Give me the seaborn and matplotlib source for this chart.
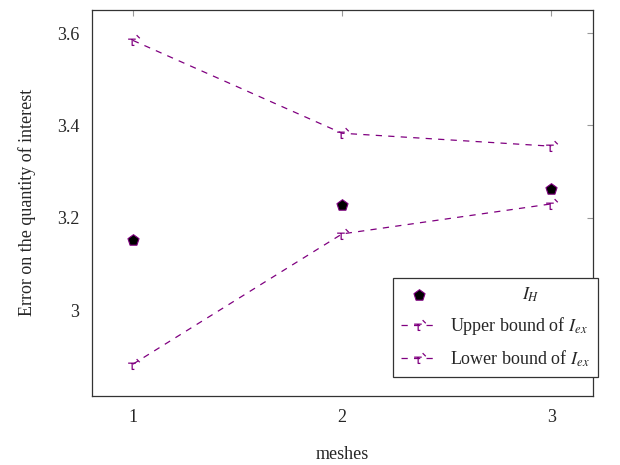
import numpy as np
import pandas as pd
import seaborn as sns
import matplotlib.pyplot as plt
from matplotlib.path import Path

meshes = [1, 2, 3]
i_h = [3.151, 3.227, 3.262]
upper_bound = [3.584, 3.383, 3.355]
lower_bound = [2.883, 3.165, 3.230]

sns.set_style('white')
plt.rcParams['font.family'] = ['Liberation Serif', 'DejaVu Serif']
plt.rcParams['mathtext.fontset'] = 'stix'

purple = '#800080'

# odd little hook marker used by the bound curves
hook = Path([(-0.6, 0.15), (0.25, 0.15), (-0.15, 0.15), (-0.15, -0.55), (0.1, -0.55),
             (0.35, 0.6), (0.7, 0.25)],
            [Path.MOVETO, Path.LINETO, Path.MOVETO, Path.LINETO, Path.LINETO,
             Path.MOVETO, Path.LINETO])

df = pd.DataFrame({'meshes': meshes, 'ih': i_h, 'up': upper_bound, 'low': lower_bound})

fig = plt.figure(figsize=(6.2, 4.65), dpi=100)
ax = fig.add_axes([92 / 620, 1 - 396 / 465, (593 - 92) / 620, (396 - 9.5) / 465])

sns.scatterplot(data=df, x='meshes', y='ih', marker='p', s=70, color='black',
                edgecolor=purple, linewidth=0.8, ax=ax, label=' ' * 16 + '$I_H$', zorder=3)
sns.lineplot(data=df, x='meshes', y='up', color=purple, lw=0.9, dashes=False,
             marker=hook, markersize=9, markeredgewidth=0.9, markerfacecolor='none',
             markeredgecolor=purple, ax=ax, label='Upper bound of $I_{ex}$')
sns.lineplot(data=df, x='meshes', y='low', color=purple, lw=0.9, dashes=False,
             marker=hook, markersize=9, markeredgewidth=0.9, markerfacecolor='none',
             markeredgecolor=purple, ax=ax, label='Lower bound of $I_{ex}$')
for ln in ax.get_lines():
    ln.set_linestyle((0, (5, 5)))

ax.set_xlim(0.804, 3.2)
ax.set_ylim(2.814, 3.651)
ax.set_xticks([1, 2, 3])
ax.set_xticklabels(['1', '2', '3'])
ax.set_yticks([3.0, 3.2, 3.4, 3.6])
ax.set_yticklabels(['3', '3.2', '3.4', '3.6'])
ax.tick_params(direction='in', length=4, width=0.8, color='#999999', labelsize=13,
               top=True, right=True, pad=9)
for sp in ax.spines.values():
    sp.set_color('#333333')
    sp.set_linewidth(0.9)

ax.set_xlabel('meshes', fontsize=13, labelpad=15)
ax.set_ylabel('Error on the quantity of interest', fontsize=13, labelpad=15)

leg = ax.legend(loc='lower left', bbox_to_anchor=(393 / 620, 1 - 377 / 465),
                bbox_transform=fig.transFigure, fontsize=13, frameon=True,
                fancybox=False, edgecolor='#333333', framealpha=1, borderaxespad=0,
                handlelength=2.0, labelspacing=0.62, borderpad=0.45, handletextpad=0.7)
leg.get_frame().set_linewidth(0.9)

fig.savefig('out.png', dpi=100)
